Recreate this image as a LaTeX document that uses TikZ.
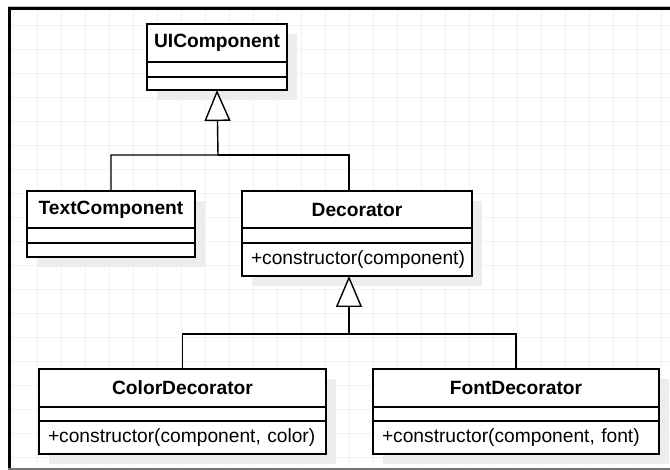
\documentclass[tikz,border=0pt]{standalone}
\usepackage{fontspec}
\setmainfont{Liberation Sans}
\usepackage{tikz}
\usetikzlibrary{positioning,arrows.meta,backgrounds}

\begin{document}
\begin{tikzpicture}[x=1pt, y=-1pt,
    classbox/.style={draw, line width=1.4pt, fill=white, inner sep=0pt, outer sep=0pt,
      font=\fontsize{19.2pt}{23pt}\selectfont},
    classtitle/.style={classbox, font=\fontsize{19.2pt}{23pt}\selectfont\bfseries},
    classrow/.style={classbox, align=left, inner xsep=9pt},
    shadowbox/.style={fill=black!7},
    gridline/.style={black!5, line width=0.8pt},
    link/.style={line width=1.4pt},
    inherit/.style={link, -{Triangle[length=31pt, width=26pt, fill=white]}}]
    \useasboundingbox (0,0) rectangle (670,470);

    \coordinate (UIC) at (147, 24);
    \coordinate (TXC) at (27, 191);
    \coordinate (DCC) at (242, 191);
    \coordinate (CDC) at (39, 369);
    \coordinate (FDC) at (373, 369);

    \coordinate (J1) at (218, 155);
    \coordinate (J2) at (349, 334);

    % UIComponent
    \node [classtitle, minimum width=140pt, minimum height=38pt, anchor=north west] (UI) at (UIC) {UIComponent};
    \node [classbox, minimum width=140pt, minimum height=15pt, below=0pt of UI] (UIA) {};
    \node [classbox, minimum width=140pt, minimum height=13pt, below=0pt of UIA] (UIM) {};

    % TextComponent
    \node [classtitle, minimum width=168pt, minimum height=37pt, anchor=north west] (TX) at (TXC) {TextComponent};
    \node [classbox, minimum width=168pt, minimum height=15pt, below=0pt of TX] (TXA) {};
    \node [classbox, minimum width=168pt, minimum height=14pt, below=0pt of TXA] (TXM) {};

    % Decorator
    \node [classtitle, minimum width=230pt, minimum height=37pt, anchor=north west] (DC) at (DCC) {Decorator};
    \node [classbox, minimum width=230pt, minimum height=15pt, below=0pt of DC] (DCA) {};
    \node [classrow, text width=212pt, minimum height=33pt, below=0pt of DCA] (DCM) {+constructor(component)};

    % ColorDecorator
    \node [classtitle, minimum width=287pt, minimum height=38pt, anchor=north west] (CD) at (CDC) {ColorDecorator};
    \node [classbox, minimum width=287pt, minimum height=14pt, below=0pt of CD] (CDA) {};
    \node [classrow, text width=269pt, minimum height=33pt, below=0pt of CDA] (CDM) {+constructor(component, color)};

    % FontDecorator
    \node [classtitle, minimum width=286pt, minimum height=38pt, anchor=north west] (FD) at (FDC) {FontDecorator};
    \node [classbox, minimum width=286pt, minimum height=14pt, below=0pt of FD] (FDA) {};
    \node [classrow, text width=268pt, minimum height=33pt, below=0pt of FDA] (FDM) {+constructor(component, font)};

    \draw [inherit] (TX.north) |- (J1) -- (UIM.south);
    \draw [link] (J1) -| ([xshift=107pt]DC.north west);
    \draw [inherit] (CD.north) |- (J2) -- ([xshift=107pt]DCM.south west);
    \draw [link] (J2) -| (FD.north);

    \begin{scope}[on background layer]
      \fill [white] (0,0) rectangle (670,470);
      \foreach \gx in {13,37,...,661} {
        \draw [gridline] (\gx, 10) -- (\gx, 468);
      }
      \foreach \gy in {25,49,...,457} {
        \draw [gridline] (11, \gy) -- (670, \gy);
      }
      \fill [shadowbox] ([shift={(10,10)}]UI.north west) rectangle ([shift={(10,10)}]UIM.south east);
      \fill [shadowbox] ([shift={(10,10)}]TX.north west) rectangle ([shift={(10,10)}]TXM.south east);
      \fill [shadowbox] ([shift={(10,10)}]DC.north west) rectangle ([shift={(10,10)}]DCM.south east);
      \fill [shadowbox] ([shift={(10,10)}]CD.north west) rectangle ([shift={(10,10)}]CDM.south east);
      \fill [shadowbox] ([shift={(10,10)}]FD.north west) rectangle ([shift={(10,10)}]FDM.south east);
    \end{scope}

    % frame
    \draw [black!25, line width=1pt] (8, 6.5) -- (670, 6.5);
    \draw [black, line width=2.5pt] (8, 8.5) -- (670, 8.5);
    \draw [black, line width=3pt] (9.5, 7) -- (9.5, 470);
    \draw [black!55, line width=1.5pt] (8, 469) -- (670, 469);
  \end{tikzpicture}
\end{document}
